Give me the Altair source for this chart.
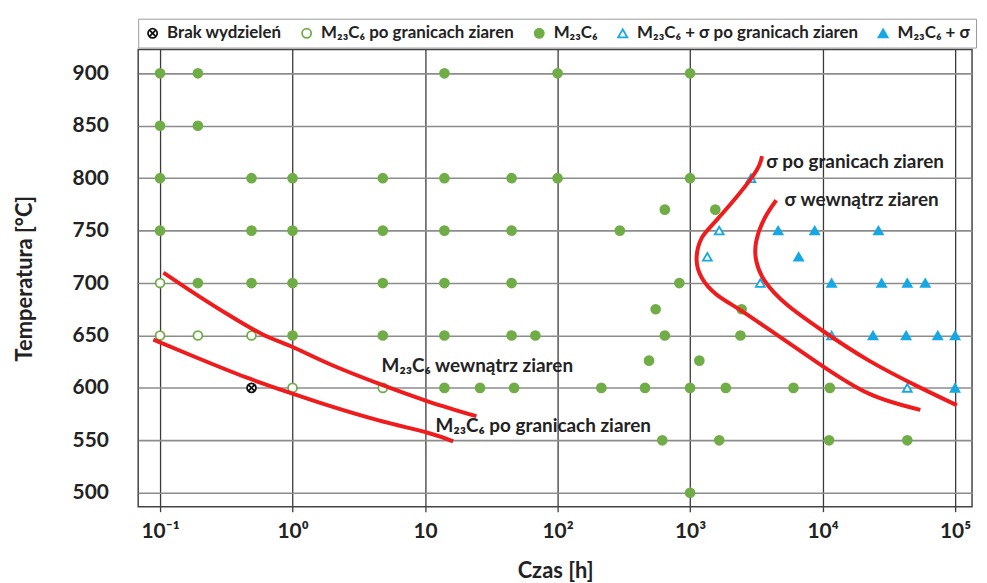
import altair as alt
import pandas as pd

FONT = "Lato"
GREEN = "#70AD47"
BLUE = "#14A8E4"
RED = "#EE1C1C"

cats = ["Brak wydzieleń", "M₂₃C₆ po granicach ziaren", "M₂₃C₆",
        "M₂₃C₆ + σ po granicach ziaren", "M₂₃C₆ + σ"]

# ---- observations (time [h], temperature [°C]) ----
brak_t = [0.49]
brak_T = [600]

open_circ_t = [0.1, 0.1, 0.193, 0.49, 1.0, 4.8]
open_circ_T = [700, 650, 650, 650, 600, 600]

filled_t = [0.1, 0.193, 14, 100, 1000,
            0.1, 0.193,
            0.1, 0.49, 1.0, 4.8, 14, 45, 100, 1000,
            645, 1550,
            0.1, 0.49, 1.0, 4.8, 14, 45, 295,
            0.193, 0.49, 1.0, 4.8, 14, 45, 830,
            550, 2450,
            1.0, 4.8, 14, 45, 68, 645, 2400,
            490, 1175,
            14, 26, 47, 214, 457, 1000, 1860, 6030, 11350,
            617, 1660, 11200, 43600,
            1000]
filled_T = [900, 900, 900, 900, 900,
            850, 850,
            800, 800, 800, 800, 800, 800, 800, 800,
            770, 770,
            750, 750, 750, 750, 750, 750, 750,
            700, 700, 700, 700, 700, 700, 700,
            675, 675,
            650, 650, 650, 650, 650, 650, 650,
            626, 626,
            600, 600, 600, 600, 600, 600, 600, 600, 600,
            550, 550, 550, 550,
            500]

open_tri_t = [2880, 1660, 1350, 3390, 11700, 43600]
open_tri_T = [800, 750, 725, 700, 650, 600]

filled_tri_t = [4620, 8720, 26400, 6600, 11700, 27900, 43600, 59600,
                24000, 42700, 74000, 100000, 100000]
filled_tri_T = [750, 750, 750, 725, 700, 700, 700, 700,
                650, 650, 650, 650, 600]

# ---- boundary curves ----
sig_gb_t = [3490, 2900, 1585, 1225, 1120, 1225, 1585, 2445, 4470, 9440, 22400, 54700]
sig_gb_T = [821, 800, 760, 743, 724, 705, 689, 673.5, 651, 623, 594.5, 579]

sig_in_t = [4470, 3660, 3160, 3160, 3660, 5310, 10000, 22400, 53100, 103000]
sig_in_T = [779, 762, 740, 721, 702, 680, 654.5, 626, 601, 583.5]

m_in_t = [0.106, 0.188, 0.335, 0.596, 1.0, 1.88, 4.47, 10.6, 24.4]
m_in_T = [710, 689, 669, 651, 639, 623, 604, 587, 573]

m_gb_t = [0.089, 0.188, 0.447, 1.0, 1.88, 4.47, 10.6, 16.3]
m_gb_T = [646, 629, 610, 594.5, 583, 569, 557, 549]

# ---- annotations ----
lab_text = ["M₂₃C₆ wewnątrz ziaren", "M₂₃C₆ po granicach ziaren",
            "σ po granicach ziaren", "σ wewnątrz ziaren"]
lab_t = [4.7, 12.0, 3750, 5150]
lab_T = [620.5, 563.5, 815.5, 779.5]

x_ticks = [0.1, 1, 10, 100, 1000, 10000, 100000]
x_tick_labels = ["10⁻¹", "10⁰", "10", "10²", "10³", "10⁴", "10⁵"]
y_ticks = [500, 550, 600, 650, 700, 750, 800, 850, 900]

# ---- tables ----
rows = []
for cat, ts, Ts in [(cats[0], brak_t, brak_T), (cats[1], open_circ_t, open_circ_T),
                    (cats[2], filled_t, filled_T), (cats[3], open_tri_t, open_tri_T),
                    (cats[4], filled_tri_t, filled_tri_T)]:
    for t, T in zip(ts, Ts):
        rows.append({"t": t, "T": T, "cat": cat})
pts = pd.DataFrame(rows)

crows = []
for name, ts, Ts in [("sg", sig_gb_t, sig_gb_T), ("si", sig_in_t, sig_in_T),
                     ("mi", m_in_t, m_in_T), ("mg", m_gb_t, m_gb_T)]:
    for i, (t, T) in enumerate(zip(ts, Ts)):
        crows.append({"t": t, "T": T, "curve": name, "i": i})
curves = pd.DataFrame(crows)

labs = pd.DataFrame({"t": lab_t, "T": lab_T, "text": lab_text})

xscale = alt.Scale(type="log", domain=[0.0684, 134300], nice=False)
yscale = alt.Scale(domain=[486.7, 922.7], nice=False, zero=False)

label_arr = "[" + ",".join("'" + s + "'" for s in x_tick_labels) + "]"
x_axis = alt.Axis(values=x_ticks, labelExpr=label_arr + "[round(log(datum.value)/LN10)+1]",
                  title="Czas [h]", grid=True, gridColor="#3a3a3a", gridWidth=1.3,
                  ticks=True, tickSize=5, tickColor="#3a3a3a", tickWidth=1.3,
                  domain=False, labelPadding=9, titlePadding=19,
                  labelFontSize=21, titleFontSize=22)
y_axis = alt.Axis(values=y_ticks, title="Temperatura [°C]", grid=True,
                  gridColor="#8c8c8c", gridWidth=1.6, ticks=False, domain=False,
                  labelPadding=30, titlePadding=36, labelFontSize=21, titleFontSize=22)

cross_path = "M-1,0A1,1,0,1,1,1,0A1,1,0,1,1,-1,0ZM-0.62,-0.62L0.62,0.62M-0.62,0.62L0.62,-0.62"

legend = alt.Legend(title=None, orient="none", legendX=0, legendY=-31,
                    direction="horizontal", columns=5, columnPadding=16,
                    labelFont=FONT, labelFontSize=17, labelFontWeight="bold",
                    labelColor="#222", labelOffset=6, labelLimit=500, symbolSize=85,
                    symbolStrokeWidth=1.8, strokeColor="#9a9a9a", fillColor="white",
                    padding=6)

points = alt.Chart(pts).mark_point(filled=True, size=80, strokeWidth=1.8, opacity=1).encode(
    x=alt.X("t:Q", scale=xscale, axis=x_axis),
    y=alt.Y("T:Q", scale=yscale, axis=y_axis),
    shape=alt.Shape("cat:N", scale=alt.Scale(domain=cats, range=[cross_path, "circle", "circle", "triangle-up", "triangle-up"]), legend=legend),
    fill=alt.Fill("cat:N", scale=alt.Scale(domain=cats, range=["white", "white", GREEN, "white", BLUE]), legend=legend),
    stroke=alt.Stroke("cat:N", scale=alt.Scale(domain=cats, range=["#111", GREEN, GREEN, BLUE, BLUE]), legend=legend),
)

lines = alt.Chart(curves).mark_line(color=RED, strokeWidth=4, interpolate="natural").encode(
    x=alt.X("t:Q", scale=xscale),
    y=alt.Y("T:Q", scale=yscale),
    detail="curve:N",
    order="i:Q",
)

texts = alt.Chart(labs).mark_text(align="left", baseline="middle", font=FONT,
                                  fontSize=19, fontWeight="bold", color="#222").encode(
    x=alt.X("t:Q", scale=xscale),
    y=alt.Y("T:Q", scale=yscale),
    text="text:N",
)

chart = alt.layer(points, lines, texts).properties(
    width=839, height=460,
    padding={"left": 5, "top": 8, "right": 2, "bottom": 2},
).configure_view(stroke="#444", strokeWidth=1.5).configure_axis(
    labelFont=FONT, titleFont=FONT, labelFontWeight="bold", titleFontWeight="bold",
    labelColor="#222", titleColor="#222"
)

chart.save("out.html", embed_options={"renderer": "svg", "actions": False})
